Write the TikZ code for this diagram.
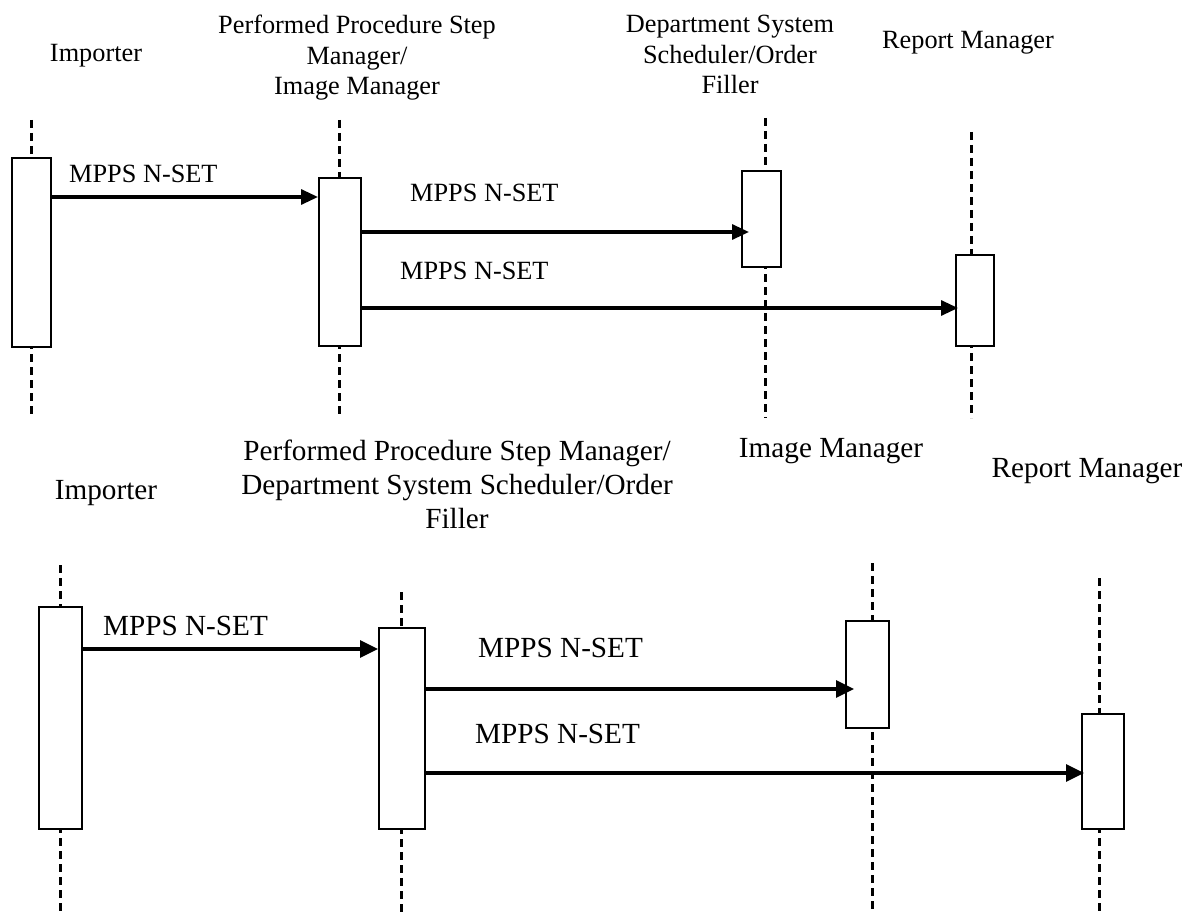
\documentclass[tikz,border=0pt]{standalone}
\usepackage{fontspec}
\setmainfont{Liberation Serif}
\usetikzlibrary{arrows.meta}

\tikzset{
	lifeline/.style={line width=3pt, dash pattern=on 8pt off 5pt},
	actbox/.style={draw, fill=white, line width=2pt, inner sep=0pt},
	msg/.style={line width=3.2pt, -{Triangle[length=17pt,width=15pt]}},
	hdr/.style={align=center, anchor=north, inner sep=0pt},
	lbl/.style={anchor=base west, inner sep=0pt},
}

\begin{document}
\begin{tikzpicture}[x=1pt, y=-1pt]
	\useasboundingbox (0,0) rectangle (1194,912);

	% upper sequence
	\begin{scope}[font=\fontsize{26.3pt}{30.5pt}\selectfont]
	\node[hdr] (himp1)  at (96,44)  {Importer};
	\node[hdr] (hppsm1) at (357,15) {Performed Procedure Step\\Manager/\\Image Manager};
	\node[hdr] (hdss1)  at (730,15) {Department System\\Scheduler/Order\\Filler};
	\node[hdr] (hrm1)   at (968,31) {Report Manager};

	\coordinate (imp1t)  at (31,120);  \coordinate (imp1b)  at (31,418);
	\coordinate (ppsm1t) at (339,120); \coordinate (ppsm1b) at (339,418);
	\coordinate (dss1t)  at (765,118); \coordinate (dss1b)  at (765,418);
	\coordinate (rm1t)   at (971,132); \coordinate (rm1b)   at (971,418);
	\draw[lifeline] (imp1t) -- (imp1b);
	\draw[lifeline] (ppsm1t) -- (ppsm1b);
	\draw[lifeline] (dss1t) -- (dss1b);
	\draw[lifeline] (rm1t) -- (rm1b);

	\node[actbox, minimum width=39pt, minimum height=188pt] (imp1)  at (31,252.5) {};
	\node[actbox, minimum width=42pt, minimum height=168pt] (ppsm1) at (340,262)   {};
	\node[actbox, minimum width=39pt, minimum height=96pt]  (dss1)  at (761.5,219) {};
	\node[actbox, minimum width=38pt, minimum height=91pt]  (rm1)   at (975,300.5) {};

	\coordinate (m11) at (0,197);
	\coordinate (m12) at (0,232);
	\coordinate (m13) at (0,308);
	\draw[msg] (imp1.east |- m11) -- (ppsm1.west |- m11);
	\draw[msg] (ppsm1.east |- m12) -- ([xshift=8pt]dss1.west |- m12);
	\draw[msg] (ppsm1.east |- m13) -- ([xshift=3pt]rm1.west |- m13);

	\node[lbl] (l11) at (69,183)  {MPPS N-SET};
	\node[lbl] (l12) at (410,202) {MPPS N-SET};
	\node[lbl] (l13) at (400,279) {MPPS N-SET};
	\end{scope}

	% lower sequence
	\begin{scope}[font=\fontsize{29.2pt}{34pt}\selectfont,
		msg/.append style={-{Triangle[length=18pt,width=17pt]}}]
	\node[hdr] (himp2)  at (106,480) {Importer};
	\node[hdr] (hppsm2) at (457,440) {Performed Procedure Step Manager/\\Department System Scheduler/Order\\Filler};
	\node[hdr] (him2)   at (831,438) {Image Manager};
	\node[hdr] (hrm2)   at (1087,458) {Report Manager};

	\coordinate (imp2t) at (60,565);   \coordinate (imp2b) at (60,912);
	\coordinate (ppsm2t) at (401,592); \coordinate (ppsm2b) at (401,912);
	\coordinate (im2t) at (872,563);   \coordinate (im2b) at (872,912);
	\coordinate (rm2t) at (1099,578);  \coordinate (rm2b) at (1099,912);
	\draw[lifeline] (imp2t) -- (imp2b);
	\draw[lifeline] (ppsm2t) -- (ppsm2b);
	\draw[lifeline] (im2t) -- (im2b);
	\draw[lifeline] (rm2t) -- (rm2b);

	\node[actbox, minimum width=43pt, minimum height=222pt] (imp2)  at (60.5,718) {};
	\node[actbox, minimum width=46pt, minimum height=201pt] (ppsm2) at (402,728.5) {};
	\node[actbox, minimum width=43pt, minimum height=107pt] (im2)   at (867.5,674.5) {};
	\node[actbox, minimum width=42pt, minimum height=115pt] (rm2)   at (1103,771.5) {};

	\coordinate (m21) at (0,649);
	\coordinate (m22) at (0,689);
	\coordinate (m23) at (0,773);
	\draw[msg] (imp2.east |- m21) -- (ppsm2.west |- m21);
	\draw[msg] (ppsm2.east |- m22) -- ([xshift=9pt]im2.west |- m22);
	\draw[msg] (ppsm2.east |- m23) -- ([xshift=3pt]rm2.west |- m23);

	\node[lbl] (l21) at (103,635) {MPPS N-SET};
	\node[lbl] (l22) at (478,657) {MPPS N-SET};
	\node[lbl] (l23) at (475,743) {MPPS N-SET};
	\end{scope}
\end{tikzpicture}
\end{document}
